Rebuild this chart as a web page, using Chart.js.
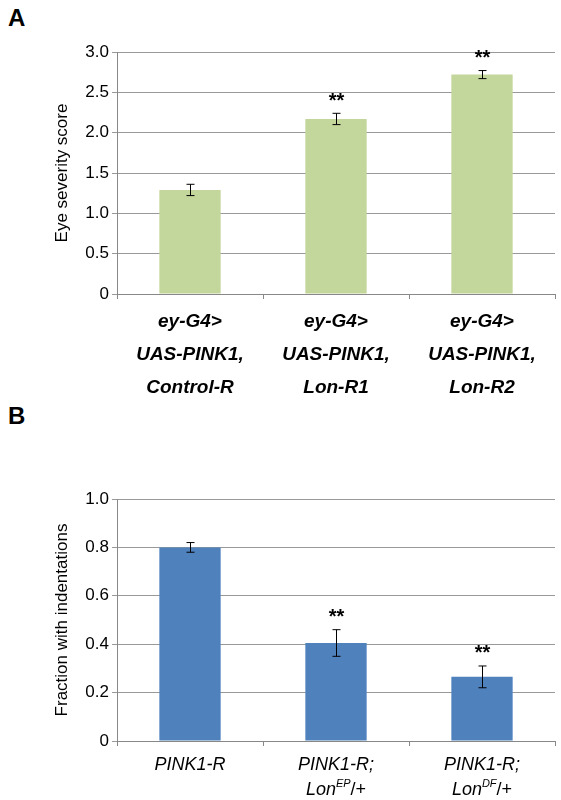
<!DOCTYPE html><html><head><style>body{margin:0;background:#fff}canvas{position:absolute;left:0}</style>
<script src="https://cdn.jsdelivr.net/npm/chart.js@4"></script></head><body>
<div style="position:absolute;left:8px;top:4px;font:bold 24px 'Liberation Sans'">A</div>
<div style="position:absolute;left:8px;top:402px;font:bold 24px 'Liberation Sans'">B</div>
<div style="position:absolute;left:0;top:0;width:561px;height:400px"><canvas id="a"></canvas></div>
<div style="position:absolute;left:0;top:400px;width:561px;height:400px"><canvas id="b"></canvas></div>
<script>
const catsA=[["ey-G4>","UAS-PINK1,","Control-R"],["ey-G4>","UAS-PINK1,","Lon-R1"],["ey-G4>","UAS-PINK1,","Lon-R2"]];
const valsA=[1.29,2.17,2.72];
const errA=[0.07,0.07,0.05];
const sigA=["","**","**"];
const labB=[[[ "PINK1-R","" ]],[["PINK1-R;",""],["Lon","EP","/+"]],[["PINK1-R;",""],["Lon","DF","/+"]]];
const valsB=[0.80,0.405,0.265];
const errB=[0.02,0.055,0.045];
const sigB=["","**","**"];
const F="'Liberation Sans', Arial, sans-serif";
function plug(err,sig,drawLabels){return{id:'x',afterDatasetsDraw(c){const ctx=c.ctx,y=c.scales.y,x=c.scales.x;ctx.save();ctx.strokeStyle='#000';ctx.lineWidth=1;ctx.fillStyle='#000';
c.data.datasets[0].data.forEach((v,i)=>{const px=Math.round(x.getPixelForValue(i))+0.5,t=y.getPixelForValue(v+err[i]),b=y.getPixelForValue(v-err[i]);
ctx.beginPath();ctx.moveTo(px,t);ctx.lineTo(px,b);ctx.moveTo(px-4,t);ctx.lineTo(px+4,t);ctx.moveTo(px-4,b);ctx.lineTo(px+4,b);ctx.stroke();
if(sig[i]){ctx.font='bold 20px '+F;ctx.textAlign='center';ctx.textBaseline='bottom';ctx.fillText(sig[i],px,t-2);}
});drawLabels(ctx,x,c.chartArea);ctx.restore();}}}
function mk(id,cats,vals,col,max,step,title,err,sig,pad,drawLabels){
return new Chart(document.getElementById(id),{type:'bar',data:{labels:cats.map((_,i)=>i),datasets:[{data:vals,backgroundColor:col,barPercentage:0.42,categoryPercentage:1}]},
options:{responsive:true,maintainAspectRatio:false,animation:false,layout:{padding:pad},plugins:{legend:{display:false},tooltip:{enabled:false}},
scales:{x:{ticks:{display:false},grid:{drawOnChartArea:false,color:'#888',tickLength:5},border:{color:'#888'}},
y:{min:0,max:max,ticks:{stepSize:step,color:'#000',font:{size:17,family:F},callback:v=>v===0?'0':v.toFixed(1)},grid:{color:'#999',tickLength:5},border:{color:'#888'},
title:{display:true,text:title,color:'#000',font:{size:17,family:F}},afterFit:s=>{s.width=69}}}},plugins:[plug(err,sig,drawLabels)]});}
mk('a',catsA,valsA,'#c3d69b',3,0.5,'Eye severity score',errA,sigA,{top:52,bottom:101,right:6,left:48},(ctx,x,a)=>{
ctx.font='bold italic 19px '+F;ctx.textAlign='center';ctx.textBaseline='middle';
catsA.forEach((l,i)=>l.forEach((s,j)=>ctx.fillText(s,x.getPixelForValue(i),a.bottom+28+j*33)));});
mk('b',labB,valsB,'#4f81bd',1,0.2,'Fraction with indentations',errB,sigB,{top:99,bottom:54,right:6,left:48},(ctx,x,a)=>{
ctx.textBaseline='middle';
labB.forEach((l,i)=>l.forEach((parts,j)=>{const cx=x.getPixelForValue(i),cy=a.bottom+24+j*25;
ctx.font='italic 18px '+F;const w1=ctx.measureText(parts[0]).width;let w2=0,w3=0;
if(parts.length>2){ctx.font='italic 11px '+F;w2=ctx.measureText(parts[1]).width;ctx.font='18px '+F;w3=ctx.measureText(parts[2]).width;}
let sx=cx-(w1+w2+w3)/2;ctx.textAlign='left';ctx.font='italic 18px '+F;ctx.fillText(parts[0],sx,cy);
if(parts.length>2){ctx.font='italic 11px '+F;ctx.fillText(parts[1],sx+w1,cy-6);ctx.font='18px '+F;ctx.fillText(parts[2],sx+w1+w2,cy);}
}));});
</script></body></html>
